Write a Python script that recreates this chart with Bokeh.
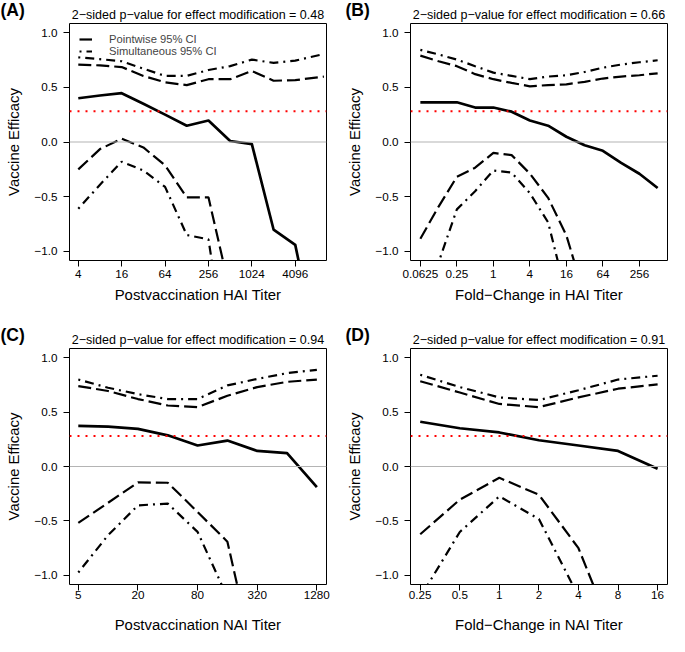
import math
from bokeh.plotting import figure
from bokeh.models import Range1d, FixedTicker, Span, Title, Legend, LegendItem
from bokeh.layouts import column, row
from bokeh.embed import file_html
from bokeh.resources import INLINE

nan = float("nan")
M = "\u2212"

# ---------------- data ----------------
# (A) Postvaccination HAI titer
A_x = [4, 8, 16, 32, 64, 128, 256, 512, 1024, 2048, 4096, 10240]
A_est = [0.40, 0.425, 0.446, 0.35, 0.25, 0.149, 0.196, 0.009, -0.02, -0.80, -0.94, -2.19]
A_pw_hi = [0.708, 0.70, 0.685, 0.604, 0.545, 0.52, 0.574, 0.574, 0.649, 0.56, 0.565, 0.598]
A_pw_lo = [-0.25, -0.065, 0.03, -0.05, -0.214, -0.506, -0.506, -1.37, nan, nan, nan, nan]
A_sim_hi = [0.774, 0.757, 0.738, 0.67, 0.604, 0.604, 0.658, 0.693, 0.753, 0.723, 0.744, 0.804]
A_sim_lo = [-0.61, -0.39, -0.18, -0.26, -0.41, -0.85, -0.89, -2.18, nan, nan, nan, nan]
A_ticks = [4, 16, 64, 256, 1024, 4096]
A_tick_labels = ["4", "16", "64", "256", "1024", "4096"]

# (B) Fold-change in HAI titer
B_x = [0.0625, 0.125, 0.25, 0.5, 1, 2, 4, 8, 16, 32, 64, 128, 256, 512]
B_est = [0.363, 0.363, 0.363, 0.315, 0.315, 0.277, 0.196, 0.149, 0.048, -0.03, -0.08, -0.19, -0.29, -0.42]
B_pw_hi = [0.789, 0.738, 0.693, 0.62, 0.574, 0.54, 0.509, 0.52, 0.527, 0.55, 0.58, 0.598, 0.61, 0.628]
B_pw_lo = [-0.884, -0.59, -0.318, -0.235, -0.10, -0.12, -0.289, -0.51, -0.854, -1.41, nan, nan, nan, nan]
B_sim_hi = [0.842, 0.80, 0.753, 0.693, 0.634, 0.604, 0.574, 0.598, 0.61, 0.64, 0.679, 0.708, 0.729, 0.747]
B_sim_lo = [-1.6, -1.1, -0.616, -0.45, -0.26, -0.28, -0.467, -0.735, -1.4, nan, nan, nan, nan, nan]
B_ticks = [0.0625, 0.25, 1, 4, 16, 64, 256]
B_tick_labels = ["0.0625", "0.25", "1", "4", "16", "64", "256"]

# (C) Postvaccination NAI titer
C_x = [5, 10, 20, 40, 80, 160, 320, 640, 1280]
C_est = [0.372, 0.366, 0.345, 0.286, 0.193, 0.238, 0.143, 0.122, -0.19]
C_pw_hi = [0.738, 0.693, 0.619, 0.56, 0.545, 0.649, 0.729, 0.777, 0.798]
C_pw_lo = [-0.518, -0.333, -0.146, -0.149, -0.417, -0.69, -1.9, nan, nan]
C_sim_hi = [0.798, 0.723, 0.664, 0.619, 0.619, 0.744, 0.804, 0.857, 0.887]
C_sim_lo = [-0.973, -0.63, -0.357, -0.34, -0.6, -1.2, nan, nan, nan]
C_ticks = [5, 20, 80, 320, 1280]
C_tick_labels = ["5", "20", "80", "320", "1280"]

# (D) Fold-change in NAI titer
D_x = [0.25, 0.5, 1, 2, 4, 8, 16]
D_est = [0.411, 0.351, 0.3125, 0.241, 0.193, 0.143, -0.021]
D_pw_hi = [0.783, 0.679, 0.574, 0.545, 0.634, 0.714, 0.753]
D_pw_lo = [-0.622, -0.304, -0.104, -0.259, -0.75, -1.65, nan]
D_sim_hi = [0.842, 0.729, 0.634, 0.61, 0.70, 0.798, 0.833]
D_sim_lo = [-1.2, -0.601, -0.274, -0.482, -1.19, nan, nan]
D_ticks = [0.25, 0.5, 1, 2, 4, 8, 16]
D_tick_labels = ["0.25", "0.5", "1", "2", "4", "8", "16"]

p_values = ["0.48", "0.66", "0.94", "0.91"]
panel_letters = ["(A)", "(B)", "(C)", "(D)"]
x_labels = ["Postvaccination HAI Titer", "Fold" + M + "Change in HAI Titer",
            "Postvaccination NAI Titer", "Fold" + M + "Change in NAI Titer"]
y_label = "Vaccine Efficacy"
y_ticks = [-1.0, -0.5, 0.0, 0.5, 1.0]
y_tick_labels = [M + "1.0", M + "0.5", "0.0", "0.5", "1.0"]
overall_ve = 0.28
legend_labels = ["Pointwise 95% CI", "Simultaneous 95% CI"]

FONT = "Liberation Sans"
DASH = "13 5"
DASHDOT = "2 5 9 5"
Y0, Y1 = -1.083, 1.083


def make_panel(idx, xs, est, pw_lo, pw_hi, sim_lo, sim_hi, ticks, tick_labels,
               xlo, xhi, W, H, bl, br, bt, bb, lab_px, tick_sd, lab_sd, legend=False):
    p = figure(width=W, height=H, x_axis_type="log", output_backend="svg",
               toolbar_location=None, title=None,
               x_range=Range1d(2 ** xlo, 2 ** xhi), y_range=Range1d(Y0, Y1),
               min_border_left=bl, min_border_right=br,
               min_border_top=bt, min_border_bottom=bb)
    p.background_fill_color = "white"
    p.border_fill_color = "white"
    p.outline_line_color = "black"
    p.outline_line_width = 1
    p.xgrid.visible = False
    p.ygrid.visible = False

    # p-value title (nearest the frame)
    p.add_layout(Title(text="2" + M + "sided p" + M + "value for effect modification = " + p_values[idx],
                       align="center", text_font=FONT, text_font_size="12.5px",
                       text_font_style="normal", text_color="black", standoff=3), "above")
    # panel letter, pulled down onto the same line, shifted left of the frame
    p.add_layout(Title(text=panel_letters[idx], align="left", offset=-(bl - lab_px),
                       text_font=FONT, text_font_size="17.5px", text_font_style="bold",
                       text_color="black", standoff=-30), "above")

    for ax in (p.xaxis[0], p.yaxis[0]):
        ax.axis_line_color = None
        ax.major_tick_out = 6
        ax.major_tick_in = 0
        ax.major_tick_line_color = "black"
        ax.minor_tick_line_color = None
        ax.major_label_text_font = FONT
        ax.major_label_text_font_size = "11.7px"
        ax.major_label_text_color = "black"
        ax.axis_label_text_font = FONT
        ax.axis_label_text_font_size = "14.9px"
        ax.axis_label_text_font_style = "normal"
        ax.axis_label_text_color = "black"

    p.xaxis.ticker = FixedTicker(ticks=ticks)
    p.xaxis.major_label_overrides = {t: l for t, l in zip(ticks, tick_labels)}
    p.xaxis.major_label_standoff = tick_sd
    p.xaxis.axis_label = x_labels[idx]
    p.xaxis.axis_label_standoff = lab_sd

    p.yaxis.ticker = FixedTicker(ticks=y_ticks)
    p.yaxis.major_label_overrides = {t: l for t, l in zip(y_ticks, y_tick_labels)}
    p.yaxis.major_label_standoff = 6
    p.yaxis.axis_label = y_label
    p.yaxis.axis_label_standoff = 9

    p.add_layout(Span(location=0, dimension="width", line_color="#b4b4b4", line_width=1.2))

    r_pw_hi = p.line(xs, pw_hi, line_color="black", line_width=2.2, line_dash=DASH)
    p.line(xs, pw_lo, line_color="black", line_width=2.2, line_dash=DASH)
    r_sim_hi = p.line(xs, sim_hi, line_color="black", line_width=2.2, line_dash=DASHDOT)
    p.line(xs, sim_lo, line_color="black", line_width=2.2, line_dash=DASHDOT)
    p.line(xs, est, line_color="black", line_width=2.7, line_join="round")

    p.add_layout(Span(location=overall_ve, dimension="width", line_color="red",
                      line_width=2, line_dash="2 6"))

    if legend:
        lg = Legend(items=[LegendItem(label=legend_labels[0], renderers=[r_pw_hi]),
                           LegendItem(label=legend_labels[1], renderers=[r_sim_hi])],
                    location="top_left")
        lg.border_line_color = None
        lg.background_fill_alpha = 0
        lg.margin = 10
        lg.padding = 5
        lg.spacing = -5
        lg.glyph_width = 13
        lg.glyph_height = 10
        lg.label_height = 10
        lg.label_standoff = 17
        lg.label_text_font = FONT
        lg.label_text_font_size = "11.2px"
        lg.label_text_baseline = "middle"
        p.add_layout(lg)
    return p


pA = make_panel(0, A_x, A_est, A_pw_lo, A_pw_hi, A_sim_lo, A_sim_hi, A_ticks, A_tick_labels,
                1.595, 13.44, 332, 317, 69, 6, 23, 57, 0, 3, 6, legend=True)
pB = make_panel(1, B_x, B_est, B_pw_lo, B_pw_hi, B_sim_lo, B_sim_hi, B_ticks, B_tick_labels,
                -4.54, 9.54, 336, 317, 78, 1, 23, 57, 13, 3, 6)
pC = make_panel(2, C_x, C_est, C_pw_lo, C_pw_hi, C_sim_lo, C_sim_hi, C_ticks, C_tick_labels,
                2.027, 10.645, 332, 319, 69, 6, 31, 52, 0, 0, 15)
pD = make_panel(3, D_x, D_est, D_pw_lo, D_pw_hi, D_sim_lo, D_sim_hi, D_ticks, D_tick_labels,
                -2.246, 4.25, 336, 319, 78, 1, 31, 52, 13, 0, 15)

layout = column(row(pA, pB), row(pC, pD))
open("out.html", "w").write(file_html(layout, INLINE))
